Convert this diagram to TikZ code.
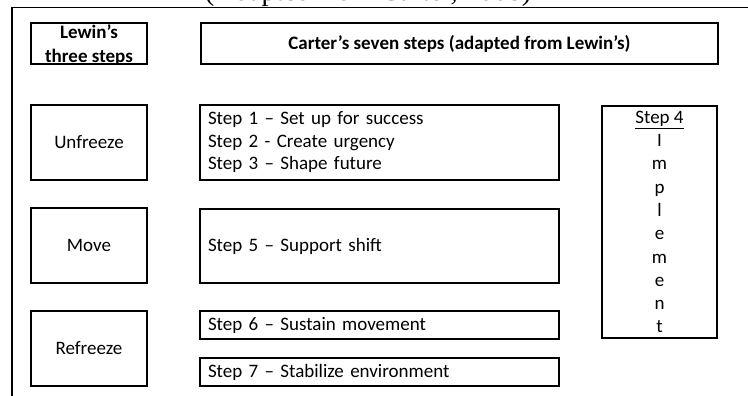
\documentclass[tikz,border=0pt]{standalone}
\usepackage{fontspec}
\setmainfont{Carlito}
\newfontfamily\capfont{Liberation Serif}
\begin{document}
\begin{tikzpicture}[x=1pt,y=-1pt,
  frame/.style={line width=1.6pt},
  box/.style={draw=black, line width=1.6pt, inner sep=0pt,
    font=\fontsize{19}{22.5}\selectfont},
  phase/.style={box, minimum width=116pt, minimum height=75pt, align=center},
  stepbox/.style={box, minimum width=359pt, text width=343pt, inner xsep=8pt,
    align=left},
  head/.style={box, minimum height=41pt, font=\bfseries\fontsize{19}{23.5}\selectfont,
    align=center}]
\useasboundingbox (0,0) rectangle (748,396);

% title line, cut by the top edge
\begin{scope}
  \clip (0,0) rectangle (748,396);
  \node[anchor=base, inner sep=0pt, font=\capfont\fontsize{28.5}{30}\selectfont]
    (caption) at (368,0.5) {(Adapted from Carter, 2008)};
\end{scope}

% open outer frame
\draw[frame] (12,396) -- (12,7.5) -- (748,7.5);

% column headings
\node[head, minimum width=116pt] (lewin) at (89,43.5) {};
\node[font=\bfseries\fontsize{19}{23.5}\selectfont, align=center, inner sep=0pt]
  (lewintext) at (89,45) {Lewin’s\\three steps};
\node[head, minimum width=517pt] (carter) at (459.5,43.5)
  {Carter’s seven steps (adapted from Lewin’s)};

% Lewin's phases
\node[phase] (unfreeze) at (89,142.5) {Unfreeze};
\node[phase] (move)     at (89,245.5) {Move};
\node[phase] (refreeze) at (89,348.5) {Refreeze};

% Carter's steps
\node[stepbox, minimum height=75pt] (s123) at (379.5,142.5)
  {Step 1 – Set up for success\\Step 2 - Create urgency\\Step 3 – Shape future};
\node[stepbox, minimum height=74pt] (s5) at (379.5,246) {Step 5 – Support shift};
\node[stepbox, minimum height=28pt] (s6) at (379.5,325) {Step 6 – Sustain movement};
\node[stepbox, minimum height=28pt] (s7) at (379.5,372) {Step 7 – Stabilize environment};

% step 4 runs alongside the others
\node[box, minimum width=115pt, minimum height=232pt, align=center,
  font=\fontsize{19}{23.3}\selectfont] (s4) at (659.5,222)
  {\underline{Step 4}\\I\\m\\p\\l\\e\\m\\e\\n\\t};
\end{tikzpicture}
\end{document}
